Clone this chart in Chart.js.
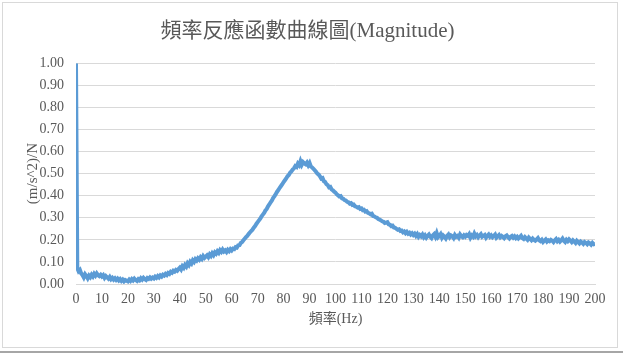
<!DOCTYPE html>
<html>
<head>
<meta charset="utf-8">
<script src="https://cdn.jsdelivr.net/npm/chart.js@4/dist/chart.umd.min.js"></script>
<style>
  html, body { margin: 0; padding: 0; background: #ffffff; }
  #wrap { position: relative; width: 623px; height: 361px; overflow: hidden; }
  #frame { position: absolute; left: 2px; top: 2px; width: 616px; height: 346px; border: 1px solid #d9d9d9; box-sizing: border-box; }
  #rule { position: absolute; left: 0; top: 351px; width: 623px; height: 2px; background: #a6a6a6; }
  canvas { position: absolute; left: 0; top: 0; }
</style>
</head>
<body>
<div id="wrap">
  <div id="frame"></div>
  <div id="rule"></div>
  <canvas id="c" width="623" height="361"></canvas>
</div>
<script>
// ---- data ----
const chartTitle = "頻率反應函數曲線圖(Magnitude)";
const xAxisTitle = "頻率(Hz)";
const yAxisTitle = "(m/s^2)/N";
const freqStart = 0;      // Hz
const freqStep = 0.5;     // Hz between samples
const xTickValues = [0,10,20,30,40,50,60,70,80,90,100,110,120,130,140,150,160,170,180,190,200];
const yTickValues = [0.00,0.10,0.20,0.30,0.40,0.50,0.60,0.70,0.80,0.90,1.00];
const magnitude = [
  1.00, 0.072, 0.058, 0.064, 0.048, 0.041, 0.030, 0.044, 0.036, 0.026, 0.038, 0.031, 0.042, 0.034, 0.046, 0.038, 0.048, 0.040, 0.036, 0.042,
  0.034, 0.040, 0.028, 0.036, 0.030, 0.024, 0.032, 0.022, 0.028, 0.020, 0.026, 0.018, 0.024, 0.016, 0.022, 0.014, 0.020, 0.012, 0.018, 0.015,
  0.012, 0.020, 0.014, 0.022, 0.016, 0.024, 0.018, 0.014, 0.022, 0.017, 0.026, 0.020, 0.028, 0.022, 0.018, 0.027, 0.023, 0.030, 0.024, 0.029,
  0.025, 0.033, 0.028, 0.036, 0.030, 0.039, 0.034, 0.042, 0.038, 0.046, 0.041, 0.050, 0.046, 0.055, 0.051, 0.060, 0.056, 0.064, 0.060, 0.068,
  0.074, 0.066, 0.080, 0.073, 0.086, 0.079, 0.094, 0.086, 0.100, 0.093, 0.107, 0.100, 0.112, 0.106, 0.116, 0.110, 0.121, 0.114, 0.126, 0.118,
  0.124, 0.130, 0.122, 0.134, 0.127, 0.139, 0.131, 0.143, 0.137, 0.148, 0.141, 0.153, 0.146, 0.156, 0.147, 0.152, 0.145, 0.155, 0.149, 0.158,
  0.152, 0.160, 0.158, 0.167, 0.165, 0.175, 0.176, 0.186, 0.190, 0.198, 0.205, 0.212, 0.218, 0.226, 0.233, 0.240, 0.246, 0.255, 0.262, 0.272,
  0.280, 0.288, 0.296, 0.306, 0.314, 0.322, 0.333, 0.340, 0.352, 0.360, 0.370, 0.378, 0.390, 0.398, 0.408, 0.418, 0.426, 0.436, 0.444, 0.452,
  0.462, 0.470, 0.478, 0.488, 0.494, 0.504, 0.510, 0.518, 0.524, 0.534, 0.530, 0.545, 0.538, 0.556, 0.540, 0.552, 0.546, 0.542, 0.550, 0.538,
  0.548, 0.532, 0.528, 0.522, 0.515, 0.508, 0.500, 0.496, 0.488, 0.478, 0.480, 0.466, 0.462, 0.452, 0.448, 0.438, 0.440, 0.428, 0.424, 0.418,
  0.414, 0.406, 0.402, 0.396, 0.398, 0.388, 0.386, 0.380, 0.378, 0.372, 0.370, 0.364, 0.366, 0.358, 0.360, 0.352, 0.350, 0.346, 0.348, 0.340,
  0.342, 0.334, 0.336, 0.328, 0.330, 0.322, 0.320, 0.316, 0.318, 0.308, 0.306, 0.302, 0.300, 0.294, 0.292, 0.288, 0.284, 0.282, 0.276, 0.278,
  0.280, 0.270, 0.268, 0.262, 0.264, 0.256, 0.254, 0.250, 0.246, 0.248, 0.240, 0.242, 0.234, 0.238, 0.230, 0.236, 0.228, 0.232, 0.224, 0.230,
  0.222, 0.228, 0.218, 0.226, 0.214, 0.222, 0.216, 0.224, 0.212, 0.220, 0.210, 0.218, 0.224, 0.214, 0.208, 0.220, 0.226, 0.214, 0.230, 0.212,
  0.218, 0.226, 0.210, 0.220, 0.214, 0.206, 0.218, 0.224, 0.212, 0.220, 0.216, 0.208, 0.222, 0.214, 0.218, 0.210, 0.224, 0.216, 0.212, 0.220,
  0.214, 0.222, 0.218, 0.226, 0.210, 0.220, 0.214, 0.228, 0.216, 0.222, 0.212, 0.220, 0.226, 0.214, 0.218, 0.222, 0.210, 0.218, 0.224, 0.214,
  0.220, 0.212, 0.218, 0.224, 0.210, 0.216, 0.222, 0.212, 0.218, 0.214, 0.208, 0.216, 0.220, 0.212, 0.206, 0.214, 0.218, 0.210, 0.216, 0.208,
  0.214, 0.206, 0.212, 0.218, 0.208, 0.204, 0.212, 0.206, 0.200, 0.210, 0.204, 0.198, 0.206, 0.200, 0.196, 0.202, 0.208, 0.198, 0.194, 0.200,
  0.190, 0.196, 0.202, 0.192, 0.198, 0.194, 0.200, 0.196, 0.190, 0.198, 0.204, 0.194, 0.200, 0.192, 0.198, 0.206, 0.196, 0.190, 0.200, 0.194,
  0.202, 0.196, 0.190, 0.198, 0.192, 0.186, 0.196, 0.190, 0.184, 0.192, 0.188, 0.182, 0.190, 0.186, 0.180, 0.188, 0.184, 0.178, 0.186, 0.180,
  0.182
];

// ---- build points ----
const points = magnitude.map((v, i) => ({ x: freqStart + i * freqStep, y: v }));

const serif = "'Liberation Serif', 'Times New Roman', 'Noto Sans CJK TC', serif";
const mixed = "'Liberation Serif', 'Noto Sans CJK TC', serif";
const textGrey = '#595959';

new Chart(document.getElementById('c'), {
  type: 'line',
  data: {
    datasets: [{
      data: points,
      borderColor: '#5B9BD5',
      borderWidth: 4,
      pointRadius: 0,
      tension: 0,
      fill: false
    }]
  },
  options: {
    responsive: false,
    animation: false,
    layout: { padding: { left: 20, right: 28, top: 0, bottom: 0 } },
    plugins: {
      legend: { display: false },
      tooltip: { enabled: false },
      title: {
        display: true,
        text: chartTitle,
        color: textGrey,
        font: { family: mixed, size: 21, weight: 'normal' },
        padding: { top: 19, bottom: 19 }
      }
    },
    scales: {
      x: {
        type: 'linear',
        min: 0, max: 200,
        afterBuildTicks: (s) => { s.ticks = xTickValues.map(v => ({ value: v })); },
        afterFit: (s) => { s.height = 77; },
        grid: { display: false, drawTicks: false },
        border: { display: true, color: '#d9d9d9', width: 1 },
        ticks: {
          autoSkip: false, maxRotation: 0, minRotation: 0,
          color: textGrey, padding: 7,
          font: { family: serif, size: 14 },
          callback: (v) => String(v)
        },
        title: {
          display: true, text: xAxisTitle, color: textGrey,
          font: { family: mixed, size: 14 },
          padding: { top: 0, bottom: 33 }
        }
      },
      y: {
        type: 'linear',
        min: 0, max: 1,
        afterBuildTicks: (s) => { s.ticks = yTickValues.map(v => ({ value: v })); },
        afterFit: (s) => { s.width = 56; },
        grid: { color: '#d9d9d9', lineWidth: 1, drawTicks: false },
        border: { display: false },
        ticks: {
          color: textGrey, padding: 12,
          font: { family: serif, size: 14 },
          callback: (v) => Number(v).toFixed(2)
        },
        title: {
          display: true, text: yAxisTitle, color: textGrey,
          font: { family: serif, size: 15 },
          padding: { top: 4, bottom: 0 }
        }
      }
    }
  }
});
</script>
</body>
</html>
